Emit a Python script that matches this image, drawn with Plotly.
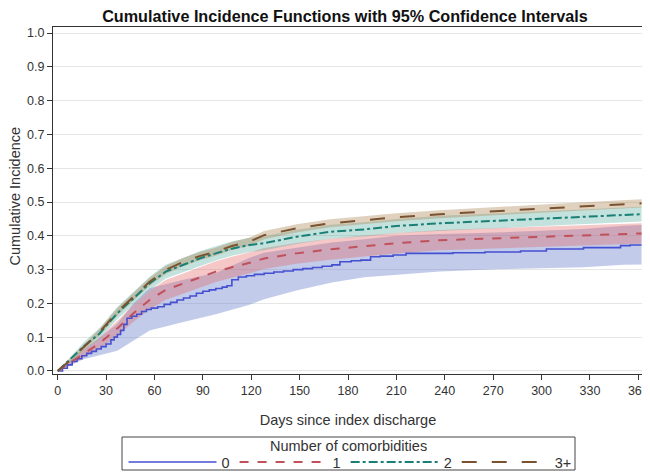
import plotly.graph_objects as go

# ---- data ----
groups = ["0", "1", "2", "3+"]
legend_title = "Number of comorbidities"

days0 = [0, 3, 6, 9, 12, 15, 18, 21, 24, 27, 30, 33, 35, 37, 39, 41, 43, 46, 49, 52, 55, 58, 62, 66,
         70, 74, 78, 82, 86, 90, 94, 98, 102, 105, 108, 112, 117, 122, 128, 134, 140, 146, 152, 158,
         164, 170, 175, 182, 188, 194, 200, 208, 216, 231, 245, 265, 287, 303, 326, 349, 355, 362]
cif0 = [0, 0.008, 0.018, 0.028, 0.036, 0.045, 0.052, 0.058, 0.065, 0.072, 0.08, 0.092, 0.1, 0.108,
        0.12, 0.138, 0.156, 0.162, 0.168, 0.176, 0.182, 0.186, 0.19, 0.197, 0.203, 0.21, 0.216, 0.222,
        0.23, 0.236, 0.24, 0.244, 0.248, 0.252, 0.27, 0.278, 0.282, 0.286, 0.289, 0.293, 0.296, 0.3,
        0.303, 0.306, 0.31, 0.314, 0.323, 0.326, 0.328, 0.338, 0.34, 0.343, 0.348, 0.348, 0.35, 0.352,
        0.355, 0.361, 0.365, 0.371, 0.373, 0.373]
band0_days = [0, 16, 37, 47, 57, 78, 98, 119, 128, 148, 170, 190, 210, 237, 272, 326, 351, 362]
lower0 = [0, 0.035, 0.06, 0.09, 0.12, 0.145, 0.168, 0.196, 0.212, 0.238, 0.262, 0.277, 0.285, 0.294,
          0.301, 0.307, 0.314, 0.315]
upper0 = [0, 0.06, 0.14, 0.2, 0.245, 0.27, 0.29, 0.335, 0.35, 0.365, 0.38, 0.39, 0.4, 0.405,
          0.41, 0.42, 0.43, 0.432]

days_s = [0, 8, 16, 26, 37, 47, 57, 67, 78, 88, 98, 108, 119, 128, 148, 169, 190, 210, 237, 272, 314, 362]
cif1 = [0, 0.025, 0.052, 0.082, 0.126, 0.171, 0.21, 0.24, 0.259, 0.277, 0.294, 0.307, 0.32, 0.333,
        0.348, 0.36, 0.37, 0.378, 0.387, 0.393, 0.4, 0.407]
half1 = [0, 0.008, 0.012, 0.017, 0.022, 0.025, 0.028, 0.029, 0.03, 0.031, 0.031, 0.031, 0.031, 0.031,
         0.031, 0.031, 0.031, 0.03, 0.03, 0.03, 0.03, 0.03]
cif2 = [0, 0.035, 0.072, 0.111, 0.171, 0.215, 0.259, 0.294, 0.314, 0.333, 0.348, 0.362, 0.373, 0.378,
        0.397, 0.412, 0.419, 0.429, 0.437, 0.444, 0.454, 0.464]
half2 = [0, 0.008, 0.012, 0.016, 0.018, 0.019, 0.02, 0.02, 0.021, 0.021, 0.021, 0.021, 0.021, 0.021,
         0.021, 0.021, 0.021, 0.021, 0.022, 0.022, 0.022, 0.022]
cif3 = [0, 0.033, 0.07, 0.115, 0.175, 0.22, 0.264, 0.299, 0.323, 0.34, 0.353, 0.37, 0.383, 0.402,
        0.422, 0.437, 0.447, 0.455, 0.464, 0.474, 0.484, 0.496]
half3 = [0, 0.005, 0.008, 0.01, 0.011, 0.012, 0.012, 0.012, 0.012, 0.012, 0.012, 0.012, 0.012, 0.012,
         0.012, 0.012, 0.012, 0.012, 0.012, 0.012, 0.012, 0.012]

x_ticks = list(range(0, 361, 30))
y_ticks = [i / 10 for i in range(0, 11)]

line_colors = ["#4550d0", "#c0505a", "#1a7f74", "#7a5230"]
fill_colors = ["rgba(110,132,204,0.42)", "rgba(228,100,100,0.36)",
               "rgba(80,170,158,0.34)", "rgba(175,140,90,0.40)"]
dashes = ["solid", "dash", "dashdot", "longdash"]

fig = go.Figure()

# confidence bands
bands = [
    (band0_days, lower0, upper0),
    (days_s, [c - h for c, h in zip(cif1, half1)], [c + h for c, h in zip(cif1, half1)]),
    (days_s, [c - h for c, h in zip(cif2, half2)], [c + h for c, h in zip(cif2, half2)]),
    (days_s, [c - h for c, h in zip(cif3, half3)], [c + h for c, h in zip(cif3, half3)]),
]
for i, (d, lo, up) in enumerate(bands):
    fig.add_trace(go.Scatter(x=d, y=lo, mode="lines", line=dict(width=0),
                             showlegend=False, hoverinfo="skip"))
    fig.add_trace(go.Scatter(x=d, y=up, mode="lines", line=dict(width=0),
                             fill="tonexty", fillcolor=fill_colors[i],
                             showlegend=False, hoverinfo="skip"))

# CIF lines
series = [(days0, cif0, "hv"), (days_s, cif1, "linear"), (days_s, cif2, "linear"), (days_s, cif3, "linear")]
for i, (d, v, shp) in enumerate(series):
    fig.add_trace(go.Scatter(x=d, y=v, mode="lines", name=groups[i],
                             line=dict(color=line_colors[i], width=1.6 if i == 0 else 2,
                                       dash=dashes[i], shape=shp)))

# the page body adds an 8px offset, so the figure is sized/positioned to compensate
W, H = 642, 465
ML, MR, MT, MB = 45, 7, 19, 99
pw = W - ML - MR
ph = H - MT - MB
px = lambda fx: (fx - ML) / pw      # figure pixel x -> paper x
py = lambda fy: (H - MB - fy) / ph  # figure pixel y -> paper y

# legend frame and title
fig.add_shape(type="rect", xref="paper", yref="paper",
              x0=px(114), x1=px(567), y0=py(462), y1=py(429),
              line=dict(color="#444444", width=1), fillcolor="rgba(0,0,0,0)")
fig.add_annotation(text=legend_title, xref="paper", yref="paper",
                   x=px(340), y=py(438), xanchor="center", yanchor="middle",
                   showarrow=False, font=dict(size=14.5, color="#333333"))
# y-axis title
fig.add_annotation(text="Cumulative Incidence", xref="paper", yref="paper",
                   x=px(6.5), y=py(188), xanchor="center", yanchor="middle", textangle=-90,
                   showarrow=False, font=dict(size=14.5, color="#333333"))

fig.update_layout(
    width=W, height=H,
    margin=dict(l=ML, r=MR, t=MT, b=MB),
    paper_bgcolor="white", plot_bgcolor="white",
    font=dict(family="Liberation Sans, Arial", size=12.5, color="#333333"),
    title=dict(text="<b>Cumulative Incidence Functions with 95% Confidence Intervals</b>",
               x=337 / W, xanchor="center", y=1.0, yanchor="top", yref="container",
               pad=dict(t=3), font=dict(size=16.2, color="#111111")),
    xaxis=dict(range=[-2.9, 362.9], tickvals=x_ticks, ticks="outside", ticklen=5,
               tickcolor="#333333", showgrid=False, zeroline=False, automargin=False,
               showline=True, linecolor="#333333", linewidth=1, mirror=True,
               title=dict(text="Days since index discharge", font=dict(size=14.5), standoff=17)),
    yaxis=dict(range=[-0.009, 1.018], tickvals=y_ticks, tickformat=".1f", ticks="outside", ticklen=5,
               tickcolor="#333333", showgrid=True, gridcolor="#e6e6e6", zeroline=False, automargin=False,
               showline=True, linecolor="#333333", linewidth=1, mirror=True),
    legend=dict(orientation="h", x=342 / W, xanchor="center", xref="container",
                y=1 - 454 / H, yanchor="middle", yref="container",
                borderwidth=0, bgcolor="rgba(0,0,0,0)", traceorder="normal",
                itemwidth=88, font=dict(size=14.5), tracegroupgap=0),
)

fig.write_html("out.html")
